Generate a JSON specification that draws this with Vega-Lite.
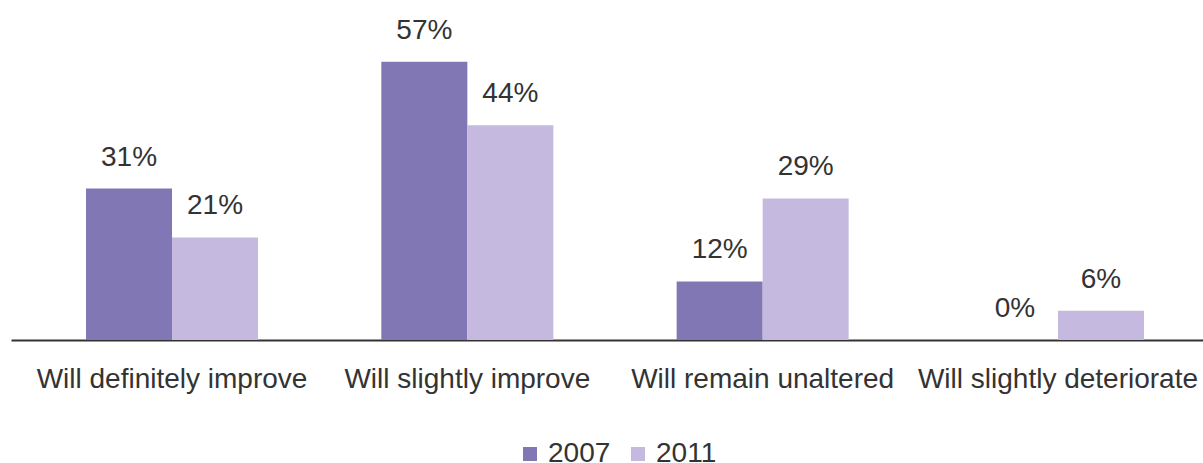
{
  "$schema": "https://vega.github.io/schema/vega-lite/v6.json",
  "autosize": "none",
  "width": 1208,
  "height": 293,
  "padding": {"left": 11, "top": 47, "right": 0, "bottom": 123},
  "config": {"view": {"stroke": null}, "font": "Liberation Sans"},
  "data": {"values": [
    {"category": "Will definitely improve", "year": "2007", "value": 0.31},
    {"category": "Will definitely improve", "year": "2011", "value": 0.21},
    {"category": "Will slightly improve", "year": "2007", "value": 0.57},
    {"category": "Will slightly improve", "year": "2011", "value": 0.44},
    {"category": "Will remain unaltered", "year": "2007", "value": 0.12},
    {"category": "Will remain unaltered", "year": "2011", "value": 0.29},
    {"category": "Will slightly deteriorate", "year": "2007", "value": 0.0},
    {"category": "Will slightly deteriorate", "year": "2011", "value": 0.06}
  ]},
  "encoding": {
    "x": {"field": "category", "type": "nominal", "sort": null,
      "scale": {"paddingInner": 0.4175, "paddingOuter": 0.254},
      "axis": {"title": null, "labelAngle": 0, "ticks": false, "domainColor": "#333333", "domainWidth": 2,
        "labelFontSize": 28, "labelColor": "#333333", "labelPadding": 25, "labelLimit": 0}},
    "xOffset": {"field": "year", "type": "nominal"},
    "y": {"field": "value", "type": "quantitative", "scale": {"domain": [0, 0.6]}, "axis": null},
    "color": {"field": "year", "type": "nominal",
      "scale": {"domain": ["2007", "2011"], "range": ["#8277B5", "#C6B9E0"]},
      "legend": {"title": null, "orient": "none", "legendX": 505, "legendY": 393, "direction": "horizontal",
        "symbolType": "square", "symbolSize": 196, "symbolStrokeWidth": 0, "labelFontSize": 28, "labelColor": "#333333",
        "columnPadding": 13, "labelOffset": 4}}
  },
  "layer": [
    {"mark": {"type": "bar"}},
    {"mark": {"type": "text", "baseline": "alphabetic", "dy": -23, "fontSize": 28, "color": "#333333"},
      "encoding": {"text": {"field": "value", "type": "quantitative", "format": ".0%"}, "color": {"value": "#333333"}}}
  ]
}
